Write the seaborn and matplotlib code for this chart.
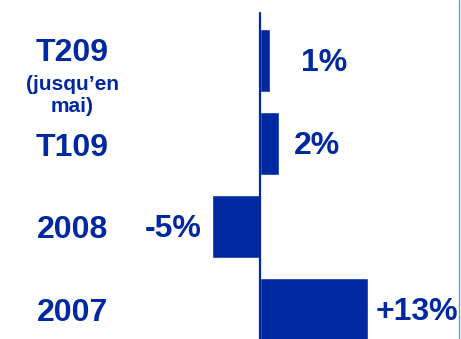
import matplotlib
matplotlib.use("Agg")
import matplotlib.pyplot as plt
import pandas as pd
import seaborn as sns

# data
categories = ["T209", "T109", "2008", "2007"]
subtitles = ["(jusqu\u2019en\nmai)", "", "", ""]
growth = [1.2, 2.3, -5.8, 13.0]
value_labels = ["1%", "2%", "-5%", "+13%"]

BLUE = "#0028A0"

sns.set_theme(style="white")
plt.rcParams["font.family"] = ["Liberation Sans", "DejaVu Sans"]

df = pd.DataFrame({"cat": categories, "growth": growth})

fig = plt.figure(figsize=(4.61, 3.39), dpi=100)
ax = fig.add_axes([0, 0, 1, 1])

sns.barplot(data=df, x="growth", y="cat", orient="h", color=BLUE,
            saturation=1, width=0.76, ax=ax)

ax.set_xlim(-31.3, 24.2)
ax.set_ylim(3.36, -0.73)
ax.axis("off")

# zero axis line
ax.axvline(0, ymin=0, ymax=0.962, color=BLUE, lw=1.6)

# light blue frame line on the right
fig.add_artist(plt.Line2D([0.9957, 0.9957], [0, 1], color="#5A9BE2", lw=1.0))

# category labels on the left
trans = ax.get_yaxis_transform()
for i, (cat, sub) in enumerate(zip(categories, subtitles)):
    if sub:
        ax.text(0.157, i - 0.09, cat, transform=trans, ha="center", va="center",
                fontsize=23, fontweight="bold", color=BLUE)
        ax.text(0.157, i + 0.42, sub, transform=trans, ha="center", va="center",
                fontsize=15, fontweight="bold", color=BLUE, linespacing=1.2)
    else:
        ax.text(0.157, i + 0.05, cat, transform=trans, ha="center", va="center",
                fontsize=23, fontweight="bold", color=BLUE)

# value labels
label_x = [7.7, 6.9, -10.5, 18.9]
for i, (x, lab) in enumerate(zip(label_x, value_labels)):
    ax.text(x, i + 0.03, lab, ha="center", va="center",
            fontsize=23, fontweight="bold", color=BLUE)

fig.savefig("out.png", dpi=100)
